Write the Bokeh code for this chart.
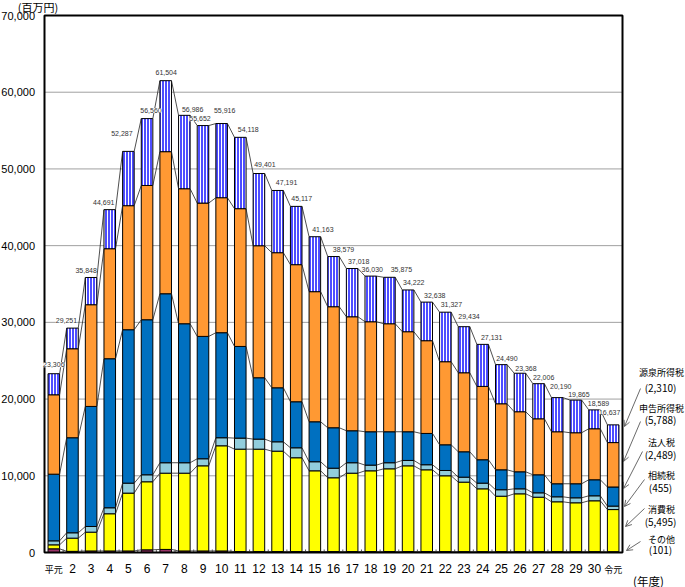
import numpy as np
from bokeh.plotting import figure
from bokeh.models import ColumnDataSource, Range1d, LabelSet, Arrow, OpenHead
from bokeh.core.properties import value
from bokeh.embed import file_html
from bokeh.resources import INLINE

# ---------------- data (百万円) ----------------
categories = ["平元", "2", "3", "4", "5", "6", "7", "8", "9", "10",
              "11", "12", "13", "14", "15", "16", "17", "18", "19", "20",
              "21", "22", "23", "24", "25", "26", "27", "28", "29", "30", "令元"]

other = [480, 150, 200, 200, 200, 350, 400, 200, 200, 200,
         120, 120, 120, 120, 120, 120, 120, 120, 120, 120,
         120, 120, 110, 110, 110, 110, 110, 110, 110, 110, 101]
consumption = [520, 1720, 2450, 4850, 7540, 8870, 9940, 10140, 11100, 13710,
               13350, 13350, 13090, 12230, 10530, 9620, 10220, 10530, 10790, 11180,
               10660, 9880, 9060, 8190, 7230, 7540, 7100, 6500, 6370, 6630, 5495]
inheritance = [520, 700, 740, 780, 1300, 910, 1360, 1360, 920, 1050,
               1440, 1310, 1220, 1300, 1180, 1250, 1360, 740, 790, 700,
               660, 690, 650, 740, 840, 650, 570, 650, 650, 650, 455]
corporate = [8690, 12390, 15650, 19430, 20000, 20210, 22030, 18120, 15950, 13690,
             11950, 8000, 7040, 6000, 5210, 5270, 4170, 4350, 4040, 3740,
             4080, 3350, 3310, 3050, 2600, 2220, 2350, 1700, 1830, 2090, 2489]
self_assessed = [10350, 11600, 13260, 14340, 16170, 17500, 18520, 17600, 17380, 17600,
                 17960, 17210, 17610, 17870, 16960, 15780, 14860, 14340, 14080, 13040,
                 12090, 10830, 10300, 9560, 8610, 7830, 7300, 6780, 6650, 6650, 5788]
withholding = [2746, 2691, 3548, 5091, 7077, 8720, 9254, 9566, 10102, 9666,
               9298, 9411, 8111, 7597, 7163, 6539, 6288, 5950, 6055, 5442,
               5028, 6457, 6004, 5481, 5100, 5018, 4576, 4450, 4255, 2459, 2310]
totals = [23306, 29251, 35848, 44691, 52287, 56560, 61504, 56986, 55652, 55916,
          54118, 49401, 47191, 45117, 41163, 38579, 37018, 36030, 35875, 34222,
          32638, 31327, 29434, 27131, 24490, 23368, 22006, 20190, 19865, 18589, 16637]

series_names = ["その他", "消費税", "相続税", "法人税", "申告所得税", "源泉所得税"]
y_ticks = [0, 10000, 20000, 30000, 40000, 50000, 60000, 70000]
y_max = 70000

# ---------------- layout / style ----------------
W, H = 685, 587
FL, FR, FT, FB = 44, 622, 15, 552      # chart box edges (px)
N = len(categories)
PX = (FR - FL) / N                     # px per category
PY = (FB - FT) / y_max                 # px per unit
BW = 0.62
colors = ["#993366", "#FFFF00", "#92CDDC", "#0070C0", "#FF9933", "#4D4DFF"]

# nudges (px) of the total labels relative to the bar-top centre
label_dx = [0, -6, -5, -6, -6.5, 4, 0.5, 8.3, -3, 3,
            8, 6, 9, 5.5, 8, 10, 6.5, 1.5, 12, 5.7,
            8, 6, 5, 9, 5.6, 6, 5, 3.5, 3, 4, -3.5]
label_dy = [9, 7.6, 7, 7.5, 18, 8, 8.5, 6.2, 6.8, 13,
            7.6, 8.7, 7.7, 7.5, 7, 7.4, 7, 6.3, 7.5, 7.2,
            6.3, 7.7, 10, 6.6, 5.8, 5, 6, 11, 5.6, 6, 12.7]


def X(px):
    return -0.5 + (px - FL) / PX


def Y(py):
    return (FB - py) / PY


p = figure(width=W, height=H,
           x_range=Range1d(X(0), X(W)), y_range=Range1d(Y(H), Y(0)),
           output_backend="svg", toolbar_location=None,
           x_axis_location=None, y_axis_location=None,
           min_border_left=0, min_border_right=0, min_border_top=0, min_border_bottom=0,
           background_fill_color="white", border_fill_color="white")
p.outline_line_color = None
p.xgrid.visible = False
p.ygrid.visible = False

xs = list(range(N))
x_lo, x_hi = -0.5, N - 0.5

# grid lines
grid_vals = [t for t in y_ticks if 0 < t < y_max]
p.segment(x0=[x_lo] * len(grid_vals), y0=grid_vals, x1=[x_hi] * len(grid_vals), y1=grid_vals,
          line_color="#A0A0A0", line_width=1)

# y tick labels
p.text(x=[X(34.5)] * len(y_ticks), y=y_ticks, text=[f"{t:,}" for t in y_ticks],
       text_align="right", text_baseline="middle", text_font=value("Liberation Sans"),
       text_font_size="11px", text_color="black")

# stacked bars
stack = [other, consumption, inheritance, corporate, self_assessed, withholding]
cum = np.cumsum(np.array(stack, dtype=float), axis=0)
bottom = np.zeros(N)
for k, vals in enumerate(stack):
    top = cum[k]
    kw = dict(x=xs, bottom=bottom, top=top, width=BW, fill_color=colors[k],
              line_color="black", line_width=1)
    if k == 5:
        kw.update(hatch_pattern="vertical_line", hatch_color="white",
                  hatch_scale=3, hatch_weight=1)
    p.vbar(**kw)
    bottom = top

# series lines connecting segment tops
for k in range(len(stack)):
    lv = cum[k]
    p.segment(x0=[i + BW / 2 for i in range(N - 1)], y0=lv[:-1],
              x1=[i + 1 - BW / 2 for i in range(N - 1)], y1=lv[1:],
              line_color="#222222", line_width=0.8)

# x tick marks between categories (pointing inward)
p.segment(x0=[i + 0.5 for i in range(N - 1)], y0=[0] * (N - 1),
          x1=[i + 0.5 for i in range(N - 1)], y1=[3 / PY] * (N - 1),
          line_color="#555555", line_width=1)

# chart box
p.quad(left=[x_lo], right=[x_hi], bottom=[0], top=[y_max], fill_color=None,
       line_color="black", line_width=2)

# total labels (drawn on top of everything)
lab_src = ColumnDataSource(dict(x=xs, y=totals, text=[f"{t:,}" for t in totals],
                                dx=label_dx, dy=label_dy))
p.add_layout(LabelSet(x="x", y="y", text="text", source=lab_src, x_offset="dx", y_offset="dy",
                      text_align="center", text_baseline="middle", level="overlay",
                      text_font=value("Liberation Sans"), text_font_size="7px",
                      text_color="#333333", background_fill_color="white"))

# category labels
num_idx = [i for i, c in enumerate(categories) if c.isdigit()]
cjk_idx = [i for i, c in enumerate(categories) if not c.isdigit()]
p.text(x=num_idx, y=[Y(568)] * len(num_idx), text=[categories[i] for i in num_idx],
       text_align="center", text_baseline="middle", text_font=value("Liberation Sans"),
       text_font_size="12px", text_color="black")
p.text(x=cjk_idx, y=[Y(569)] * len(cjk_idx), text=[categories[i] for i in cjk_idx],
       text_align="center", text_baseline="middle", text_font=value("Noto Sans CJK JP"),
       text_font_size="9px", text_color="black")

# unit labels
p.text(x=[X(37.5)], y=[Y(6)], text=["(百万円)"], text_align="center", text_baseline="middle",
       text_font=value("Noto Sans CJK JP"), text_font_size="11px", text_color="black")
p.text(x=[X(648)], y=[Y(580)], text=["(年度)"], text_align="center", text_baseline="middle",
       text_font=value("Noto Sans CJK JP"), text_font_size="11.5px", text_color="black")

# right-hand annotations for the last year (values taken from the data)
last = [withholding[-1], self_assessed[-1], corporate[-1], inheritance[-1],
        consumption[-1], other[-1]]
names = list(reversed(series_names))
name_py = [372, 407.7, 442.3, 475, 509, 539]
val_py = [386.7, 419, 454.3, 487.3, 520.7, 549.3]
p.text(x=[X(661)] * 6, y=[Y(v) for v in name_py], text=names, text_align="center",
       text_baseline="middle", text_font=value("Noto Sans CJK JP"), text_font_size="9px",
       text_color="black")
p.text(x=[X(660)] * 6, y=[Y(v) for v in val_py], text=[f"({v:,})" for v in last],
       text_align="center", text_baseline="middle", text_font=value("Noto Sans CJK JP"),
       text_font_size="10px", text_color="black")
arrow_start = [(640, 388), (640, 421), (642, 451), (644, 479), (644, 508), (640, 541)]
arrow_end = [(624, 426), (623, 461), (623, 488), (624, 506), (625, 526), (626, 550)]
for st, en in zip(arrow_start, arrow_end):
    p.add_layout(Arrow(x_start=X(st[0]), y_start=Y(st[1]), x_end=X(en[0]), y_end=Y(en[1]),
                       line_color="#444444", line_width=0.8,
                       end=OpenHead(size=6, line_color="#444444", line_width=0.8)))

open("out.html", "w").write(file_html(p, INLINE))
